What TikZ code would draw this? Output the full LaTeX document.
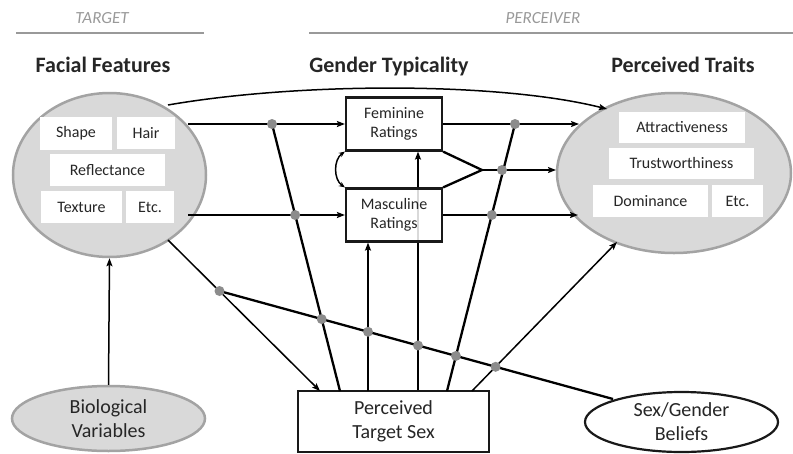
\documentclass[tikz,border=0pt]{standalone}
\usepackage{fontspec}
\setmainfont{Carlito}
\usetikzlibrary{shapes.geometric,arrows.meta,backgrounds}
\definecolor{ellfill}{HTML}{D9D9D9}
\definecolor{ellline}{HTML}{A3A3A3}
\definecolor{dotgray}{HTML}{8C8C8C}
\definecolor{hdrgray}{HTML}{999999}
\definecolor{txt}{HTML}{262626}
\begin{document}
\begin{tikzpicture}[x=1pt,y=-1pt,
  >={Stealth[length=8pt,width=6pt,inset=1.5pt]},
  ell/.style={ellipse, fill=ellfill, draw=ellline, line width=2.5pt, inner sep=0pt},
  inbox/.style={fill=white, inner sep=0pt, text=txt, font=\fontsize{16}{19}\selectfont},
  ratingbox/.style={draw=black!90, fill=white, fill opacity=0.85, text opacity=1, line width=2.2pt,
    minimum width=96pt, minimum height=53pt, align=center, inner sep=0pt, text=txt,
    font=\fontsize{16}{19}\selectfont},
  mdot/.style={circle, fill=dotgray, minimum size=10pt, inner sep=0pt},
  hdr/.style={font=\fontsize{22}{26}\selectfont\bfseries, text=txt, anchor=base},
  sect/.style={font=\fontsize{17}{20}\selectfont\itshape, text=hdrgray, anchor=base},
  rulel/.style={draw=hdrgray, line width=2.5pt},
  thinl/.style={line width=1.5pt},
  thickl/.style={line width=2.3pt},
  bigtxt/.style={align=center, text=txt, font=\fontsize{20}{24}\selectfont},
]
\useasboundingbox (0,0) rectangle (793,453);

% section headers
\node[sect] (tgt) at (102,23) {TARGET};
\node[sect] (per) at (543,23) {PERCEIVER};
\coordinate (r1a) at (16,33); \coordinate (r1b) at (204,33);
\coordinate (r2a) at (309,33); \coordinate (r2b) at (793,33);
\draw[rulel] (r1a) -- (r1b);
\draw[rulel] (r2a) -- (r2b);

% headings
\node[hdr] (hFF) at (103,72) {Facial Features};
\node[hdr] (hGT) at (389,72) {Gender Typicality};
\node[hdr] (hPT) at (683,72) {Perceived Traits};

% facial features ellipse
\node[ell, minimum width=193pt, minimum height=164pt] (FF) at (109.5,175) {};
\node[inbox, minimum width=72pt, minimum height=33pt] (shape) at (76,133.5) {Shape};
\node[inbox, minimum width=58pt, minimum height=32pt] (hair) at (146,133) {Hair};
\node[inbox, minimum width=115pt, minimum height=32pt] (refl) at (107.5,170) {Reflectance};
\node[inbox, minimum width=81pt, minimum height=32pt] (tex) at (81.5,207) {Texture};
\node[inbox, minimum width=48pt, minimum height=32pt] (etc1) at (150,207) {Etc.};

% perceived traits ellipse
\node[ell, minimum width=234pt, minimum height=160pt] (TR) at (674,173) {};
\node[inbox, minimum width=126pt, minimum height=31pt] (attr) at (682,127.5) {Attractiveness};
\node[inbox, minimum width=145pt, minimum height=31pt] (trust) at (681.5,163.5) {Trustworthiness};
\node[inbox, minimum width=115pt, minimum height=32pt] (dom) at (650.5,201) {Dominance};
\node[inbox, minimum width=51pt, minimum height=32pt] (etc2) at (737.5,201) {Etc.};

% gender typicality boxes
\node[ratingbox] (Fem) at (394,124) {Feminine\\Ratings};
\node[ratingbox] (Masc) at (394,215) {Masculine\\Ratings};

% bottom nodes
\node[draw=black!90, fill=white, line width=2.2pt, minimum width=191pt, minimum height=61pt,
  inner sep=0pt, bigtxt] (TS) at (393.5,421.5) {Perceived\\Target Sex};
\node[ell, minimum width=193pt, minimum height=65pt, bigtxt] (BV) at (108.5,418.5) {Biological\\Variables};
\node[ellipse, draw=black!90, fill=white, line width=2.2pt, minimum width=193pt, minimum height=60pt,
  inner sep=0pt, bigtxt] (SB) at (681.5,422) {Sex/Gender\\Beliefs};

% anchor coordinates
\coordinate (ffF) at (188,124);
\coordinate (ffM) at (188,215);
\coordinate (ffTop) at (168,105);
\coordinate (ffS) at (168,240);
\coordinate (trF) at (579,124);
\coordinate (trM) at (578,215);
\coordinate (trC) at (556,170);
\coordinate (trTop) at (607,109);
\coordinate (trB) at (617,242);
\coordinate (apex) at (482,170);
\coordinate (tsA) at (320,391);
\coordinate (tsL) at (340,391);
\coordinate (tsM) at (368,391);
\coordinate (tsF) at (418,391);
\coordinate (tsR) at (447,391);
\coordinate (tsT) at (472,391);
\coordinate (sbA) at (613,399);
\coordinate (c1) at (272,124);
\coordinate (c3) at (515,124);
\coordinate (c5) at (502,170);
\coordinate (c6) at (219.5,291);
\coordinate (c2) at (intersection of tsL--c1 and ffM--Masc.west);
\coordinate (c4) at (intersection of tsR--c3 and Masc.east--trM);
\coordinate (c7) at (intersection of tsL--c1 and sbA--c6);
\coordinate (c8) at (intersection of tsM--{368,242} and sbA--c6);
\coordinate (c9) at (intersection of tsF--{418,150} and sbA--c6);
\coordinate (c10) at (intersection of tsR--c3 and sbA--c6);
\coordinate (c11) at (intersection of tsT--trB and sbA--c6);

% connectors
\draw[thinl,->] (BV.north) -- (FF.south);
\draw[thinl,->] (ffTop) .. controls (300,82) and (500,82) .. (trTop);
\draw[thinl,->] (ffF) -- (Fem.west);
\draw[thinl,->] (ffM) -- (Masc.west);
\draw[thinl,->] (Fem.east) -- (trF);
\draw[thinl,->] (Masc.east) -- (trM);
\draw[thickl, line join=miter] (Fem.south east) -- (apex) -- (Masc.north east);
\draw[thinl,->] (apex) -- (trC);
\draw[thinl,{Stealth[length=6pt,width=5pt]}-{Stealth[length=6pt,width=5pt]}]
  (Fem.south west) to[bend right=55] (Masc.north west);
\draw[thinl,->] (ffS) -- (tsA);
\draw[thickl] (sbA) -- (c6);
\draw[thickl] (tsL) -- (c1);
\draw[thickl] (tsR) -- (c3);
\draw[thinl,->] (tsM) -- (tsM |- Masc.south);
\begin{pgfonlayer}{background}
\draw[thinl,->] (tsF) -- (tsF |- Fem.south);
\end{pgfonlayer}
\draw[thinl,->] (tsT) -- (trB);

% moderator dots
\node[mdot] (d1) at (c1) {};
\node[mdot] (d2) at (c2) {};
\node[mdot] (d3) at (c3) {};
\node[mdot] (d4) at (c4) {};
\node[mdot] (d5) at (c5) {};
\node[mdot] (d6) at (c6) {};
\node[mdot] (d7) at (c7) {};
\node[mdot] (d8) at (c8) {};
\node[mdot] (d9) at (c9) {};
\node[mdot] (d10) at (c10) {};
\node[mdot] (d11) at (c11) {};
\end{tikzpicture}
\end{document}
